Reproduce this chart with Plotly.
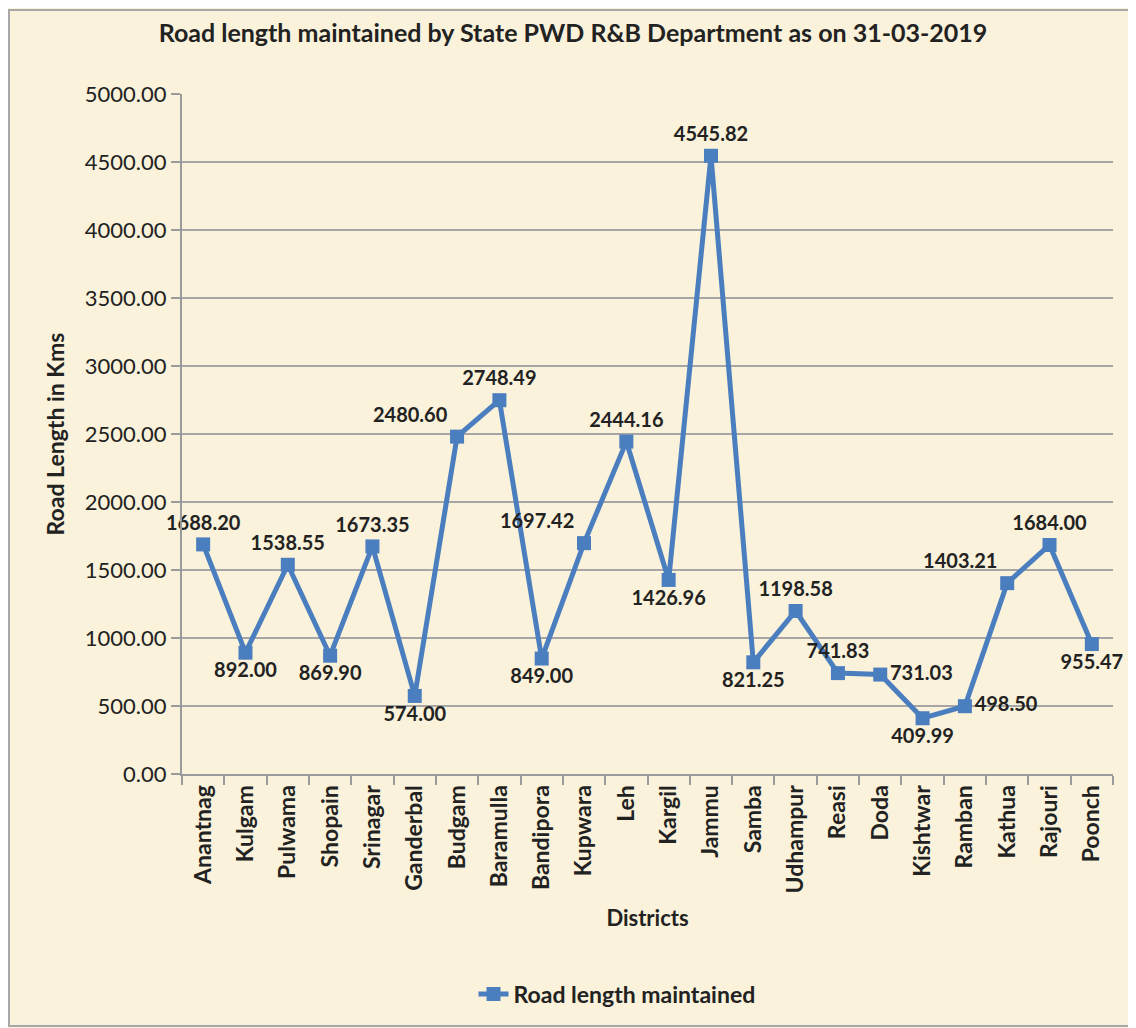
import plotly.graph_objects as go

districts = ["Anantnag", "Kulgam", "Pulwama", "Shopain", "Srinagar", "Ganderbal", "Budgam",
             "Baramulla", "Bandipora", "Kupwara", "Leh", "Kargil", "Jammu", "Samba", "Udhampur",
             "Reasi", "Doda", "Kishtwar", "Ramban", "Kathua", "Rajouri", "Poonch"]
road_length = [1688.20, 892.00, 1538.55, 869.90, 1673.35, 574.00, 2480.60, 2748.49, 849.00,
               1697.42, 2444.16, 1426.96, 4545.82, 821.25, 1198.58, 741.83, 731.03, 409.99,
               498.50, 1403.21, 1684.00, 955.47]
label_pos = ["top center", "bottom center", "top center", "bottom center", "top center",
             "bottom center", "top left", "top center", "bottom center", "top left",
             "top center", "bottom center", "top center", "bottom center", "top center",
             "top center", "middle right", "bottom center", "middle right", "top left",
             "top center", "bottom center"]
y_ticks = [0, 500, 1000, 1500, 2000, 2500, 3000, 3500, 4000, 4500, 5000]

OFF = 8  # page body margin
W, H = 1136 - OFF, 1028 - OFF
L, R, T, B = 182 - OFF, 23, 94 - OFF, 254
pw, ph = W - L - R, H - T - B

def px(x):
    return (x - OFF - L) / pw

def py(y):
    return (H - B - (y - OFF)) / ph

FONT = "Lato, 'Open Sans', sans-serif"
blue = "#4A7EBF"
TXT = "#222222"

fig = go.Figure()
fig.add_trace(go.Scatter(
    x=districts, y=road_length, mode="lines+markers+text",
    name="Road length maintained",
    line=dict(color=blue, width=5),
    marker=dict(symbol="square", size=14, color=blue),
    text=[f"{v:.2f}" for v in road_length],
    textposition=label_pos,
    textfont=dict(family=FONT, size=20, color=TXT, weight="bold"),
    cliponaxis=False,
))

fig.update_layout(
    width=W, height=H,
    margin=dict(l=L, r=R, t=T, b=B),
    paper_bgcolor="#FAF2DA", plot_bgcolor="#FAF2DA",
    font=dict(family=FONT, color=TXT),
    title=dict(text="<b>Road length maintained by State PWD R&B Department as on 31-03-2019</b>",
               x=(px(573) * pw + L) / W, xanchor="center", y=1 - (33 - OFF) / H, yanchor="middle",
               font=dict(family=FONT, size=25, color=TXT)),
    showlegend=True,
    legend=dict(orientation="h", x=px(617), xanchor="center", y=py(994), yanchor="middle",
                font=dict(family=FONT, size=23, color=TXT, weight="bold"),
                bgcolor="rgba(0,0,0,0)"),
    xaxis=dict(
        type="category", tickson="boundaries", ticks="outside", ticklen=9,
        tickcolor="#9A9A9A", tickwidth=2, showline=True, linecolor="#9A9A9A", linewidth=2,
        showgrid=False, tickangle=-90,
        tickfont=dict(family=FONT, size=23, color=TXT, weight="bold"),
        title=dict(text="<b>Districts</b>", font=dict(family=FONT, size=22, color=TXT),
                   standoff=18),
        range=[-0.5, len(districts) - 0.5],
    ),
    yaxis=dict(
        range=[0, 5000], tickvals=y_ticks, tickformat=".2f",
        ticks="outside", ticklen=9, tickcolor="#9A9A9A", tickwidth=2,
        showline=True, linecolor="#9A9A9A", linewidth=2,
        showgrid=True, gridcolor="#A6A6A6", gridwidth=1.5, zeroline=False,
        tickfont=dict(family=FONT, size=22, color=TXT),
        title=dict(text="<b>Road Length in Kms</b>", font=dict(family=FONT, size=23, color=TXT),
                   standoff=14),
    ),
)

fig.add_shape(type="rect", xref="paper", yref="paper",
              x0=px(9), x1=px(1133), y0=py(1026), y1=py(10),
              line=dict(color="#A8A8A8", width=2), fillcolor="rgba(0,0,0,0)", layer="below")

fig.write_html("out.html")
